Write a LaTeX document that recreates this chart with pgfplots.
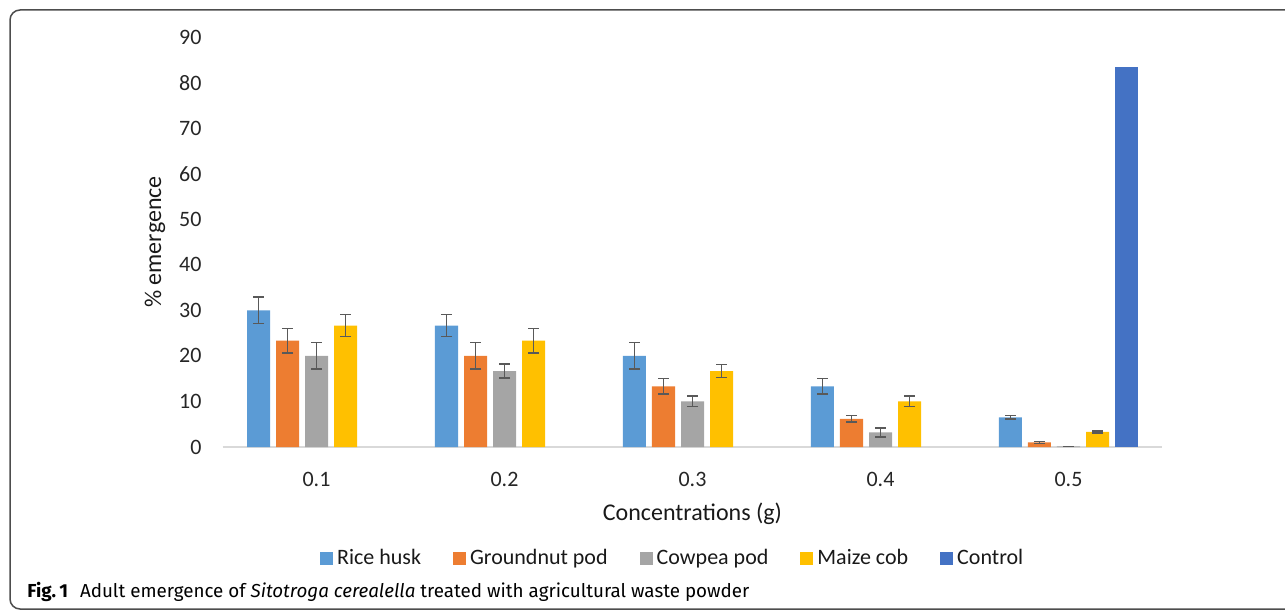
\documentclass[border=0pt]{standalone}
\usepackage{fontspec}
\setmainfont{Carlito}
\newfontfamily\capfont{Fira Sans}
\usepackage{pgfplots}
\pgfplotsset{compat=1.18}
\definecolor{cRice}{HTML}{5B9BD5}
\definecolor{cGround}{HTML}{ED7D31}
\definecolor{cCow}{HTML}{A5A5A5}
\definecolor{cMaize}{HTML}{FFC000}
\definecolor{cCtrl}{HTML}{4472C4}
\definecolor{cErr}{HTML}{595959}
\definecolor{cAxis}{HTML}{D9D9D9}
\definecolor{cFrame}{HTML}{4D4D4D}
\pgfplotsset{sqlegend/.style={legend image code/.code={\fill[##1] (0pt,-3.25pt) rectangle (6.5pt,3.25pt);}}}
\begin{document}
\begin{tikzpicture}
\draw[cFrame, line width=0.75pt, rounded corners=5pt] (650pt,301pt) -- (5pt,301pt) -- (5pt,1.5pt) -- (650pt,1.5pt);
\begin{axis}[
  at={(111.25pt,82.5pt)}, anchor=south west,
  scale only axis, width=470pt, height=205pt,
  xmin=-0.5, xmax=4.5, ymin=0, ymax=90,
  ybar=3pt, bar width=11.5pt,
  axis x line*=bottom, axis y line*=left,
  x axis line style={draw=cAxis, line width=0.9pt, -},
  y axis line style={draw=none},
  major tick length=0pt,
  xtick={0,1,2,3,4}, xticklabels={0.1,0.2,0.3,0.4,0.5},
  ytick={0,10,...,90},
  /pgf/number format/assume math mode=true,
  tick label style={font=\fontsize{11}{13}\selectfont, text=black!85},
  yticklabel style={xshift=-7pt},
  xticklabel style={yshift=-9pt},
  xlabel={Concentrations (g)},
  ylabel={\% emergence},
  label style={font=\fontsize{12}{14}\selectfont, text=black!90},
  xlabel style={at={(axis description cs:0.5,-0.1634)}, anchor=center},
  ylabel style={at={(axis description cs:-0.0718,0.5)}, anchor=center},
  legend columns=5,
  legend style={at={(axis description cs:0.48,0)}, yshift=-55.5pt, anchor=center, draw=none,
    font=\fontsize{11}{13}\selectfont, text=black!90,
    /tikz/every even column/.append style={column sep=14pt},
    inner sep=0pt},
  legend cell align=left,
  error bars/y dir=both, error bars/y explicit,
  error bars/error bar style={cErr, line width=0.8pt},
  error bars/error mark options={cErr, line width=0.8pt, mark size=2.75pt, rotate=90},
  clip=false,
]
\addplot[fill=cRice, draw=none, sqlegend] coordinates {
  (0,30) +- (0,2.9) (1,26.67) +- (0,2.4) (2,20) +- (0,2.9) (3,13.33) +- (0,1.7) (4,6.5) +- (0,0.4)};
\addlegendentry{Rice husk}
\addplot[fill=cGround, draw=none, sqlegend] coordinates {
  (0,23.33) +- (0,2.65) (1,20) +- (0,2.9) (2,13.33) +- (0,1.7) (3,6.2) +- (0,0.7) (4,1) +- (0,0.2)};
\addlegendentry{Groundnut pod}
\addplot[fill=cCow, draw=none, sqlegend] coordinates {
  (0,20) +- (0,2.9) (1,16.67) +- (0,1.5) (2,10) +- (0,1.15) (3,3.2) +- (0,1.0) (4,0.15) +- (0,0)};
\addlegendentry{Cowpea pod}
\addplot[fill=cMaize, draw=none, sqlegend] coordinates {
  (0,26.67) +- (0,2.4) (1,23.33) +- (0,2.65) (2,16.67) +- (0,1.4) (3,10) +- (0,1.15) (4,3.33) +- (0,0.2)};
\addlegendentry{Maize cob}
\addplot[fill=cCtrl, draw=none, sqlegend, error bars/y dir=none] coordinates {
  (4,83.33)};
\addlegendentry{Control}
\end{axis}
\node[anchor=west, inner sep=0pt, font=\capfont\fontsize{9.4}{11}\selectfont] at (13.5pt,10pt)
  {\textbf{Fig.\,1}\hspace{6pt}Adult emergence of \textit{Sitotroga cerealella} treated with agricultural waste powder};
\pgfresetboundingbox
\useasboundingbox (0,0) rectangle (642.5pt,306pt);
\end{tikzpicture}
\end{document}
